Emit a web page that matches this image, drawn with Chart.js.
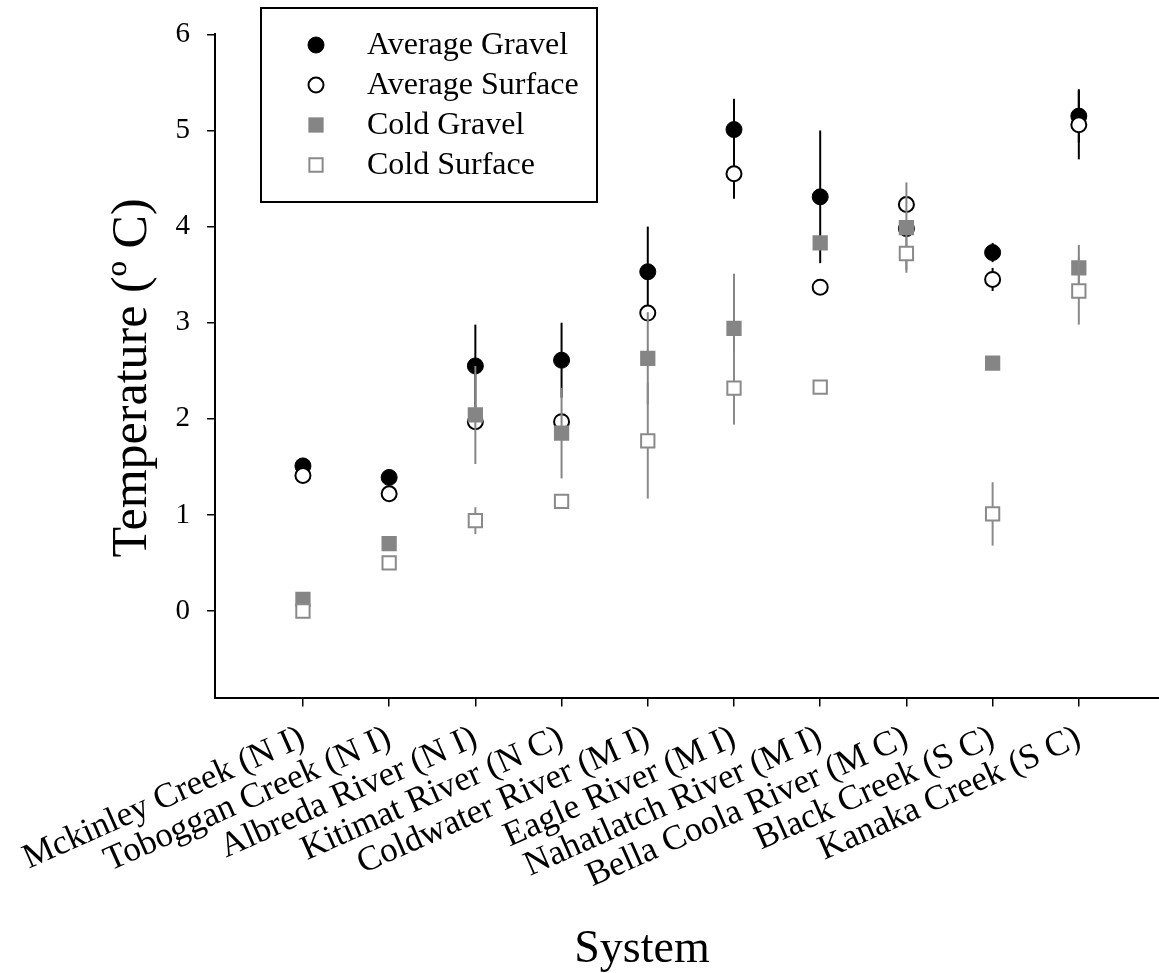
<!DOCTYPE html>
<html lang="en">
  <head>
    <meta charset="UTF-8" />
    <title>Temperature by System</title>
    <script src="https://cdn.jsdelivr.net/npm/chart.js@4.4.1/dist/chart.umd.min.js"></script>
    <style>
      html, body { margin: 0; padding: 0; background: #fff; overflow: hidden; }
      canvas { display: block; }
    </style>
  </head>
  <body>
    <canvas id="myChart" width="1159" height="973"></canvas>
    <script>
      // data
      let systems = [
        "Mckinley Creek (N I)",
        "Toboggan Creek (N I)",
        "Albreda River (N I)",
        "Kitimat River (N C)",
        "Coldwater River (M I)",
        "Eagle River (M I)",
        "Nahatlatch River (M I)",
        "Bella Coola River (M C)",
        "Black Creek (S C)",
        "Kanaka Creek (S C)",
      ];
      let avgGravel = [1.51, 1.39, 2.55, 2.61, 3.53, 5.01, 4.31, 3.98, 3.73, 5.15];
      let avgGravelErr = [0, 0, 0.43, 0.39, 0.47, 0.32, 0.69, 0, 0.1, 0.28];
      let avgSurface = [1.41, 1.22, 1.97, 1.97, 3.1, 4.55, 3.37, 4.23, 3.45, 5.06];
      let avgSurfaceErr = [0, 0, 0, 0, 0, 0.26, 0, 0, 0.12, 0.36];
      let coldGravel = [0.12, 0.7, 2.04, 1.85, 2.63, 2.94, 3.83, 3.99, 2.58, 3.57];
      let coldGravelErr = [0, 0.03, 0.51, 0.47, 0.48, 0.57, 0, 0.47, 0, 0.24];
      let coldSurface = [0.0, 0.5, 0.94, 1.14, 1.77, 2.32, 2.33, 3.72, 1.01, 3.33];
      let coldSurfaceErr = [0, 0, 0.14, 0, 0.6, 0.38, 0, 0.17, 0.33, 0.35];
      let yTicks = [0, 1, 2, 3, 4, 5, 6];

      const serif = "'Liberation Serif', 'Times New Roman', serif";
      const grey = "#858585";

      function toPoints(vals, errs) {
        return vals.map((v, i) => ({ x: i, y: v, err: errs[i] }));
      }

      let datasets = [
        {
          label: "Average Gravel",
          data: toPoints(avgGravel, avgGravelErr),
          pointStyle: "circle",
          pointRadius: 8,
          borderWidth: 1,
          backgroundColor: "#000",
          borderColor: "#000",
          errColor: "#000",
          order: 4,
        },
        {
          label: "Average Surface",
          data: toPoints(avgSurface, avgSurfaceErr),
          pointStyle: "circle",
          pointRadius: 7.5,
          borderWidth: 2,
          backgroundColor: "#fff",
          borderColor: "#000",
          errColor: "#000",
          order: 3,
        },
        {
          label: "Cold Gravel",
          data: toPoints(coldGravel, coldGravelErr),
          pointStyle: "rect",
          pointRadius: 10.8,
          borderWidth: 0,
          backgroundColor: grey,
          borderColor: grey,
          errColor: grey,
          order: 2,
        },
        {
          label: "Cold Surface",
          data: toPoints(coldSurface, coldSurfaceErr),
          pointStyle: "rect",
          pointRadius: 9.4,
          borderWidth: 2,
          backgroundColor: "#fff",
          borderColor: "#8a8a8a",
          errColor: "#8a8a8a",
          order: 1,
        },
      ];

      // vertical error bars, drawn just under each dataset's own markers
      const errorBars = {
        id: "errorBars",
        beforeDatasetDraw(chart, args) {
          const ds = chart.data.datasets[args.index];
          const xs = chart.scales.x;
          const ys = chart.scales.y;
          const ctx = chart.ctx;
          ctx.save();
          ctx.strokeStyle = ds.errColor;
          ctx.lineWidth = 2;
          ds.data.forEach((p) => {
            if (!p.err) return;
            const px = xs.getPixelForValue(p.x);
            ctx.beginPath();
            ctx.moveTo(px, ys.getPixelForValue(p.y + p.err));
            ctx.lineTo(px, ys.getPixelForValue(p.y - p.err));
            ctx.stroke();
          });
          ctx.restore();
        },
      };

      // boxed legend in the upper left + the axis titles
      const boxLegend = {
        id: "boxLegend",
        afterDraw(chart) {
          const ctx = chart.ctx;
          ctx.save();
          ctx.lineWidth = 2;
          ctx.strokeStyle = "#000";
          ctx.strokeRect(261, 8, 336, 194);
          ctx.font = "32px " + serif;
          ctx.fillStyle = "#000";
          ctx.textBaseline = "middle";
          ctx.textAlign = "left";
          chart.data.datasets.forEach((ds, i) => {
            const y = 45 + i * 40;
            ctx.save();
            ctx.fillStyle = ds.backgroundColor;
            ctx.strokeStyle = ds.borderColor;
            ctx.lineWidth = ds.borderWidth;
            Chart.helpers.drawPoint(ctx, { pointStyle: ds.pointStyle, radius: ds.pointRadius, borderWidth: ds.borderWidth }, 316, y);
            ctx.restore();
            ctx.fillText(ds.label, 367, y + 1);
          });
          ctx.font = "46px " + serif;
          ctx.textAlign = "center";
          ctx.textBaseline = "alphabetic";
          ctx.fillText("System", 642, 962);
          ctx.save();
          ctx.translate(133, 378);
          ctx.rotate(-Math.PI / 2);
          ctx.font = "50px " + serif;
          ctx.textBaseline = "middle";
          ctx.fillText("Temperature (º C)", 0, 0);
          ctx.restore();
          ctx.restore();
        },
      };

      new Chart("myChart", {
        type: "scatter",
        data: { datasets },
        plugins: [errorBars, boxLegend],
        options: {
          responsive: false,
          animation: false,
          layout: { autoPadding: false, padding: { top: 33, left: 0, right: 0, bottom: 0 } },
          plugins: { legend: { display: false }, tooltip: { enabled: false } },
          scales: {
            x: {
              type: "linear",
              min: -1.02,
              max: 9.93,
              border: { color: "#000", width: 2 },
              grid: { drawOnChartArea: false, tickLength: 9, color: "#000", lineWidth: 1.5 },
              ticks: {
                autoSkip: false,
                minRotation: 24,
                maxRotation: 24,
                padding: 11,
                color: "#000",
                font: { family: serif, size: 35 },
                callback: (v) => systems[v],
              },
              afterBuildTicks: (s) => {
                s.ticks = systems.map((c, i) => ({ value: i }));
              },
              afterFit: (s) => {
                s.height = 275.5;
                s.paddingLeft = 0;
                s.paddingRight = 0;
              },
            },
            y: {
              min: -0.9,
              max: 6,
              border: { color: "#000", width: 2 },
              grid: { drawOnChartArea: false, tickLength: 8, color: "#000", lineWidth: 1.5 },
              ticks: {
                padding: 17,
                color: "#000",
                font: { family: serif, size: 29 },
              },
              afterBuildTicks: (s) => {
                s.ticks = yTicks.map((v) => ({ value: v }));
              },
              afterFit: (s) => {
                s.width = 215;
              },
            },
          },
        },
      });
    </script>
  </body>
</html>
